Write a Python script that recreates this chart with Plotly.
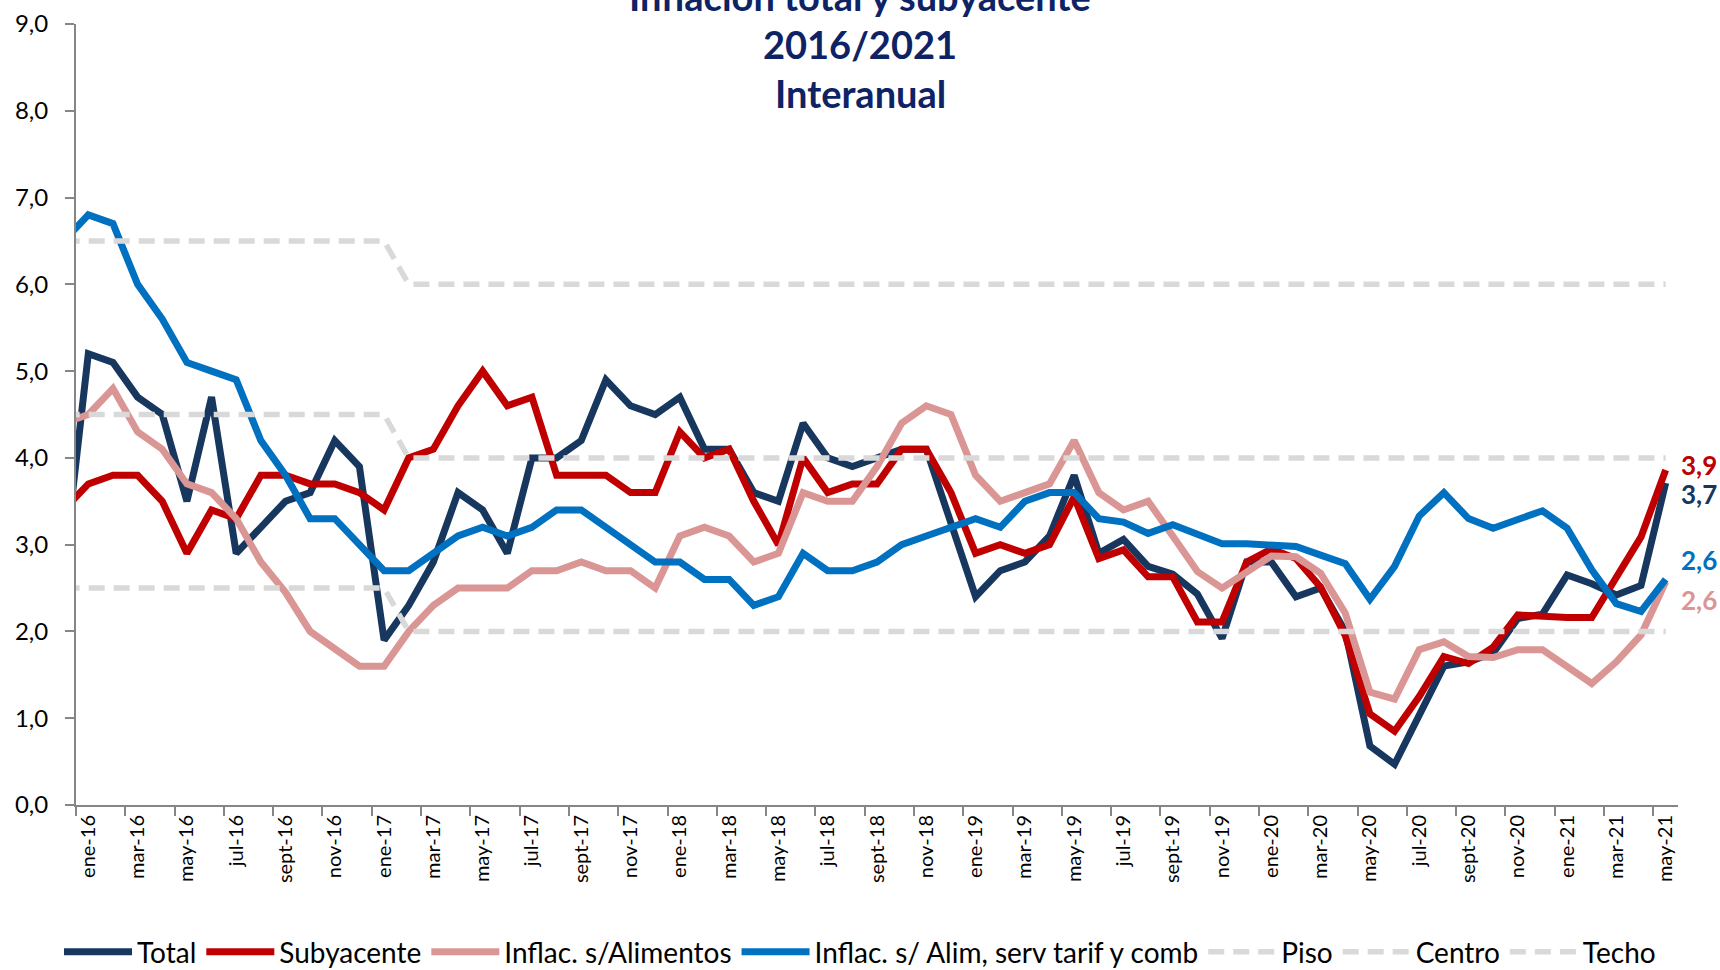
import plotly.graph_objects as go

# ---------------- data ----------------
month_abbr = ["ene", "feb", "mar", "abr", "may", "jun", "jul", "ago", "sept", "oct", "nov", "dic"]
years = ["16", "17", "18", "19", "20", "21"]
# dic-15 is the (clipped) point before the first visible month
categories = ["dic-15"] + [f"{m}-{y}" for y in years for m in month_abbr][:65]

total = [2.7,
         5.2, 5.1, 4.7, 4.5, 3.5, 4.7, 2.9, 3.2, 3.5, 3.6, 4.2, 3.9,
         1.9, 2.3, 2.8, 3.6, 3.4, 2.9, 4.0, 4.0, 4.2, 4.9, 4.6, 4.5,
         4.7, 4.1, 4.1, 3.6, 3.5, 4.4, 4.0, 3.9, 4.0, 4.1, 4.1, 3.25,
         2.4, 2.7, 2.8, 3.1, 3.8, 2.9, 3.06, 2.75, 2.66, 2.43, 1.92, 2.8,
         2.8, 2.4, 2.5, 2.0, 0.68, 0.47, 1.05, 1.6, 1.65, 1.75, 2.15, 2.2,
         2.65, 2.55, 2.42, 2.53, 3.71]
subyacente = [3.4,
              3.7, 3.8, 3.8, 3.5, 2.9, 3.4, 3.3, 3.8, 3.8, 3.7, 3.7, 3.6,
              3.4, 4.0, 4.1, 4.6, 5.0, 4.6, 4.7, 3.8, 3.8, 3.8, 3.6, 3.6,
              4.3, 4.0, 4.1, 3.5, 3.0, 4.0, 3.6, 3.7, 3.7, 4.1, 4.1, 3.6,
              2.9, 3.0, 2.9, 3.0, 3.55, 2.84, 2.94, 2.63, 2.63, 2.11, 2.11, 2.8,
              2.95, 2.84, 2.51, 1.95, 1.05, 0.85, 1.25, 1.71, 1.63, 1.82, 2.19, 2.17,
              2.16, 2.16, 2.63, 3.09, 3.86]
sin_alimentos = [4.4,
                 4.5, 4.8, 4.3, 4.1, 3.7, 3.6, 3.3, 2.8, 2.45, 2.0, 1.8, 1.6,
                 1.6, 2.0, 2.3, 2.5, 2.5, 2.5, 2.7, 2.7, 2.8, 2.7, 2.7, 2.5,
                 3.1, 3.2, 3.1, 2.8, 2.9, 3.6, 3.5, 3.5, 3.9, 4.4, 4.6, 4.5,
                 3.8, 3.5, 3.6, 3.7, 4.2, 3.6, 3.4, 3.5, 3.1, 2.69, 2.5, 2.69,
                 2.87, 2.86, 2.67, 2.21, 1.3, 1.22, 1.79, 1.88, 1.71, 1.7, 1.79, 1.79,
                 1.6, 1.4, 1.65, 1.96, 2.57]
sin_alim_serv = [6.5,
                 6.8, 6.7, 6.0, 5.6, 5.1, 5.0, 4.9, 4.2, 3.8, 3.3, 3.3, 3.0,
                 2.7, 2.7, 2.9, 3.1, 3.2, 3.1, 3.2, 3.4, 3.4, 3.2, 3.0, 2.8,
                 2.8, 2.6, 2.6, 2.3, 2.4, 2.9, 2.7, 2.7, 2.8, 3.0, 3.1, 3.2,
                 3.3, 3.2, 3.5, 3.6, 3.6, 3.3, 3.26, 3.13, 3.23, 3.12, 3.01, 3.01,
                 3.0, 2.98, 2.88, 2.78, 2.37, 2.75, 3.33, 3.6, 3.3, 3.19, 3.29, 3.39,
                 3.19, 2.71, 2.32, 2.23, 2.6]
piso = [2.5,
        2.5, 2.5, 2.5, 2.5, 2.5, 2.5, 2.5, 2.5, 2.5, 2.5, 2.5, 2.5,
        2.5, 2.0, 2.0, 2.0, 2.0, 2.0, 2.0, 2.0, 2.0, 2.0, 2.0, 2.0,
        2.0, 2.0, 2.0, 2.0, 2.0, 2.0, 2.0, 2.0, 2.0, 2.0, 2.0, 2.0,
        2.0, 2.0, 2.0, 2.0, 2.0, 2.0, 2.0, 2.0, 2.0, 2.0, 2.0, 2.0,
        2.0, 2.0, 2.0, 2.0, 2.0, 2.0, 2.0, 2.0, 2.0, 2.0, 2.0, 2.0,
        2.0, 2.0, 2.0, 2.0, 2.0]
centro = [4.5,
          4.5, 4.5, 4.5, 4.5, 4.5, 4.5, 4.5, 4.5, 4.5, 4.5, 4.5, 4.5,
          4.5, 4.0, 4.0, 4.0, 4.0, 4.0, 4.0, 4.0, 4.0, 4.0, 4.0, 4.0,
          4.0, 4.0, 4.0, 4.0, 4.0, 4.0, 4.0, 4.0, 4.0, 4.0, 4.0, 4.0,
          4.0, 4.0, 4.0, 4.0, 4.0, 4.0, 4.0, 4.0, 4.0, 4.0, 4.0, 4.0,
          4.0, 4.0, 4.0, 4.0, 4.0, 4.0, 4.0, 4.0, 4.0, 4.0, 4.0, 4.0,
          4.0, 4.0, 4.0, 4.0, 4.0]
techo = [6.5,
         6.5, 6.5, 6.5, 6.5, 6.5, 6.5, 6.5, 6.5, 6.5, 6.5, 6.5, 6.5,
         6.5, 6.0, 6.0, 6.0, 6.0, 6.0, 6.0, 6.0, 6.0, 6.0, 6.0, 6.0,
         6.0, 6.0, 6.0, 6.0, 6.0, 6.0, 6.0, 6.0, 6.0, 6.0, 6.0, 6.0,
         6.0, 6.0, 6.0, 6.0, 6.0, 6.0, 6.0, 6.0, 6.0, 6.0, 6.0, 6.0,
         6.0, 6.0, 6.0, 6.0, 6.0, 6.0, 6.0, 6.0, 6.0, 6.0, 6.0, 6.0,
         6.0, 6.0, 6.0, 6.0, 6.0]
y_ticks = [0, 1, 2, 3, 4, 5, 6, 7, 8, 9]
title_lines = ["Inflación total y subyacente", "2016/2021", "Interanual"]

# ---------------- styling ----------------
FONT = "Lato, 'Open Sans', sans-serif"
NAVY = "#17375E"
RED = "#C00000"
PINK = "#DA9694"
BLUE = "#0070C0"
GREY = "#D9D9D9"
AXIS = "#868686"
TITLE = "#0D2366"

FIG_W, FIG_H = 1720, 970
PLOT_TOP, PLOT_BOTTOM = 24, 805          # pixels of y=9 and y=0
PLOT_LEFT, PLOT_RIGHT = 76, 1678         # pixels of the x-axis ends
PH = PLOT_BOTTOM - PLOT_TOP
PW = PLOT_RIGHT - PLOT_LEFT

x = list(range(-1, len(categories) - 1))  # dic-15 -> -1, ene-16 -> 0

fig = go.Figure()
series = [
    ("Total", total, NAVY, 7, "solid"),
    ("Subyacente", subyacente, RED, 7, "solid"),
    ("Inflac. s/Alimentos", sin_alimentos, PINK, 7, "solid"),
    ("Inflac. s/ Alim, serv tarif y comb", sin_alim_serv, BLUE, 7, "solid"),
    ("Piso", piso, GREY, 5.5, "16px,9px"),
    ("Centro", centro, GREY, 5.5, "16px,9px"),
    ("Techo", techo, GREY, 5.5, "16px,9px"),
]
for name, vals, color, w, dash in series:
    fig.add_trace(go.Scatter(x=x, y=vals, name=name, mode="lines",
                             line=dict(color=color, width=w, dash=dash),
                             hoverinfo="skip"))

# end labels
end_labels = [(subyacente, RED, 5), (total, NAVY, -11), (sin_alim_serv, BLUE, 19), (sin_alimentos, PINK, -18)]
for vals, color, shift in end_labels:
    fig.add_annotation(x=(1719 - PLOT_LEFT) / PW, xref="paper", y=vals[-1], yref="y", yshift=shift,
                       text=f"<b>{vals[-1]:.1f}</b>".replace(".", ","), showarrow=False,
                       xanchor="right", yanchor="middle",
                       font=dict(family=FONT, size=26, color=color))

# title (first line partially cut at the top, as in the reference)
for line, ypx in zip(title_lines, [-4, 44, 93]):
    fig.add_annotation(x=(860 - PLOT_LEFT) / PW, xref="paper", y=(PLOT_BOTTOM - ypx) / PH, yref="paper",
                       text=f"<b>{line}</b>", showarrow=False, xanchor="center", yanchor="middle",
                       font=dict(family=FONT, size=38, color=TITLE))

tick_idx = list(range(0, 65, 2))
fig.update_xaxes(
    range=[-0.5, 64.5],
    tickmode="array", tickvals=tick_idx, ticktext=[categories[i + 1] for i in tick_idx],
    tickangle=-90, ticks="", showgrid=False, zeroline=False,
    showline=True, linecolor=AXIS, linewidth=2,
    tickfont=dict(family=FONT, size=20, color="#000000"),
    minor=dict(tickmode="array", tickvals=[i - 0.5 for i in tick_idx], ticks="outside",
               ticklen=9, tickcolor=AXIS, tickwidth=2, showgrid=False),
)
fig.update_yaxes(
    range=[0, 9], tickmode="array", tickvals=y_ticks, tickformat=".1f",
    ticks="outside", ticklen=9, tickcolor=AXIS, tickwidth=2,
    showgrid=False, zeroline=False, showline=True, linecolor=AXIS, linewidth=2,
    tickfont=dict(family=FONT, size=24, color="#000000"), ticklabelstandoff=12,
)
fig.update_layout(
    width=FIG_W, height=FIG_H,
    margin=dict(l=PLOT_LEFT, r=FIG_W - PLOT_RIGHT, t=PLOT_TOP, b=FIG_H - PLOT_BOTTOM, autoexpand=False),
    paper_bgcolor="white", plot_bgcolor="white",
    separators=",.",
    font=dict(family=FONT, color="#000000"),
    showlegend=True,
    legend=dict(orientation="h", xref="container", x=860 / FIG_W, xanchor="center",
                yref="container", y=1 - 952 / FIG_H, yanchor="middle",
                font=dict(family=FONT, size=28, color="#000000"),
                itemwidth=68, tracegroupgap=0, bgcolor="rgba(0,0,0,0)"),
)
# remove the default page margin so the 1720x970 figure fills the window exactly
fig.write_html("out.html", config={"displayModeBar": False},
               post_script="document.body.style.margin='0';document.body.style.overflow='hidden';")
